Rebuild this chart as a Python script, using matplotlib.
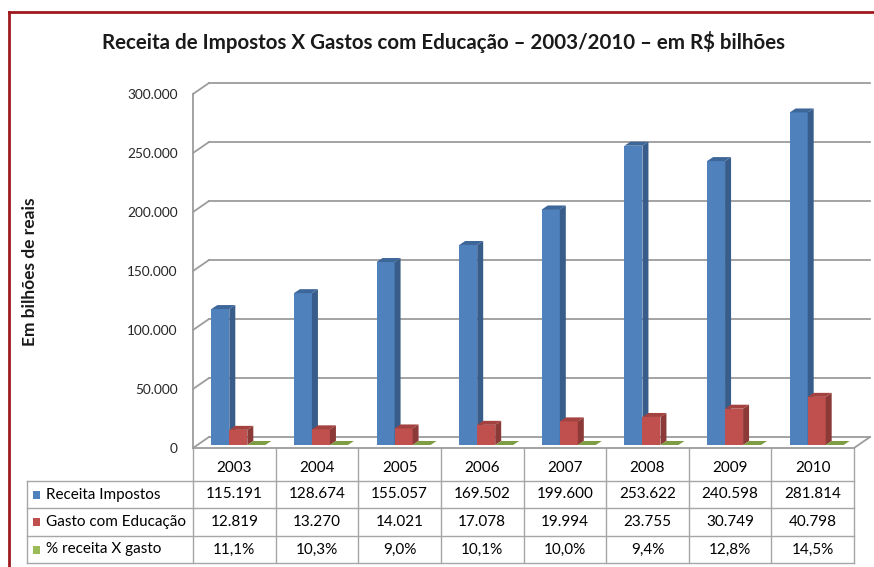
import matplotlib
matplotlib.use("Agg")
import matplotlib.pyplot as plt
from matplotlib.patches import Polygon, Rectangle
from matplotlib.lines import Line2D
from matplotlib.ticker import FuncFormatter

plt.rcParams['font.family'] = ['Lato', 'DejaVu Sans']

# data (R$ milhões, como no original)
anos = ['2003', '2004', '2005', '2006', '2007', '2008', '2009', '2010']
receita = [115191, 128674, 155057, 169502, 199600, 253622, 240598, 281814]
gasto = [12819, 13270, 14021, 17078, 19994, 23755, 30749, 40798]
pct = [11.1, 10.3, 9.0, 10.1, 10.0, 9.4, 12.8, 14.5]
series_nomes = ['Receita Impostos', 'Gasto com Educação', '% receita X gasto']
yticks = [0, 50000, 100000, 150000, 200000, 250000, 300000]

cores_frente = ['#4F81BD', '#C0504D', '#9BBB59']
cores_lado = ['#385D8A', '#8C3A37', '#71893F']
cores_topo = ['#3D6699', '#A3423F', '#7E9C44']


def fmt_mil(v):
    return f"{v:,.0f}".replace(',', '.')


def fmt_pct(v):
    return f"{v:.1f}%".replace('.', ',')


W, H = 874, 567
fig = plt.figure(figsize=(W / 100, H / 100), dpi=100)

# front plane of the 3d box
L, R, B, T = 193, 854, 448, 94
ax = fig.add_axes([L / W, 1 - B / H, (R - L) / W, (B - T) / H])
n = len(anos)
ymax = 300000
ax.set_xlim(-0.5, n - 0.5)
ax.set_ylim(0, ymax)
for s in ax.spines.values():
    s.set_visible(False)
ax.set_xticks([])
ax.set_yticks(yticks)
ax.yaxis.set_major_formatter(FuncFormatter(lambda v, p: fmt_mil(v)))
ax.tick_params(axis='y', length=0, pad=11, labelsize=9.8, labelcolor='#262626')

px_x = n / (R - L)
px_y = ymax / (B - T)
wdx, wdy = 16 * px_x, 11 * px_y   # wall depth
pdx, pdy = 4 * px_x, 3 * px_y     # bars plane
bdx, bdy = 6 * px_x, 4 * px_y     # bar depth
x0, x1 = -0.5, n - 0.5

grid = dict(color='#9C9C9C', lw=1.3, clip_on=False, zorder=1)
for v in yticks:
    ax.plot([x0 + wdx, x1 + wdx], [v + wdy, v + wdy], **grid)
    ax.plot([x0, x0 + wdx], [v, v + wdy], **grid)
ax.plot([x0, x0], [0, ymax], **grid)
ax.plot([x0, x1, x1 + wdx], [0, 0, wdy], **grid)

# bars
bw = 18 * px_x
valores = [receita, gasto, pct]
z = 2
for i in range(n):
    for k, vals in enumerate(valores):
        v = vals[i]
        xl = i + (k - 1) * bw - bw / 2 + pdx
        ax.bar(xl, v, width=bw, bottom=pdy, align='edge', color=cores_frente[k],
               edgecolor='none', zorder=z, clip_on=False)
        lado = [(xl + bw, pdy), (xl + bw + bdx, pdy + bdy),
                (xl + bw + bdx, pdy + v + bdy), (xl + bw, pdy + v)]
        topo = [(xl, pdy + v), (xl + bw, pdy + v),
                (xl + bw + bdx, pdy + v + bdy), (xl + bdx, pdy + v + bdy)]
        ax.add_patch(Polygon(lado, closed=True, fc=cores_lado[k], ec='none',
                             zorder=z + 0.5, clip_on=False))
        ax.add_patch(Polygon(topo, closed=True, fc=cores_topo[k], ec='none',
                             zorder=z + 0.5, clip_on=False))
        z += 1

# table below the plot, pixel coords
tab = fig.add_axes([0, 0, 1, 1], zorder=-1)
tab.set_xlim(0, W)
tab.set_ylim(H, 0)
tab.axis('off')
cw = (R - L) / n
linha = dict(color='#A6A6A6', lw=1.0)
rows_y = [481, 508, 536, 563]
for i in range(n + 1):
    tab.plot([L + i * cw, L + i * cw], [B, rows_y[-1]], **linha)
for y in rows_y:
    tab.plot([27, R], [y, y], **linha)
tab.plot([27, 27], [rows_y[0], rows_y[-1]], **linha)

fs = 11
for i, a in enumerate(anos):
    tab.text(L + (i + 0.5) * cw, 468, a, ha='center', va='center', fontsize=fs)
textos = [[fmt_mil(v) for v in receita], [fmt_mil(v) for v in gasto],
          [fmt_pct(v) for v in pct]]
for r in range(3):
    yc = (rows_y[r] + rows_y[r + 1]) / 2
    tab.add_patch(Rectangle((33, yc - 4), 7, 8, fc=cores_frente[r], ec='none'))
    tab.text(46, yc, series_nomes[r], ha='left', va='center', fontsize=fs)
    for i in range(n):
        tab.text(L + (i + 0.5) * cw, yc, textos[r][i], ha='center', va='center',
                 fontsize=fs)

fig.text(444 / W, 1 - 42 / H,
         'Receita de Impostos X Gastos com Educação – 2003/2010 – em R$ bilhões',
         ha='center', va='center', fontsize=14.8, fontweight='bold', color='#1a1a1a')
fig.text(30 / W, 1 - 272 / H, 'Em bilhões de reais', rotation=90, ha='center',
         va='center', fontsize=12.5, fontweight='bold', color='#1a1a1a')

# red frame
fig.add_artist(Line2D([9 / W, 9 / W], [0, 1 - 12 / H], color='#9E1A1E', lw=2))
fig.add_artist(Line2D([9 / W, 1], [1 - 12 / H, 1 - 12 / H], color='#9E1A1E', lw=2))

fig.savefig('out.png', dpi=100)
